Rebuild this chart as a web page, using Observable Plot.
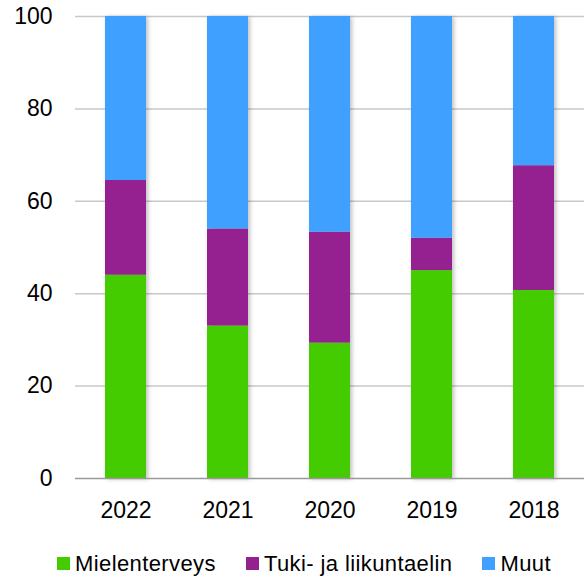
<!DOCTYPE html>
<html><head><meta charset="utf-8">
<script src="https://cdn.jsdelivr.net/npm/d3@7"></script>
<script src="https://cdn.jsdelivr.net/npm/@observablehq/plot@0.6"></script>
<style>
body{margin:0;background:#fff;font-family:"Liberation Sans",Arial,sans-serif;}
#legend{display:flex;align-items:center;height:48px;padding-left:57px;font-size:22px;letter-spacing:0.4px;color:#000;white-space:nowrap;}
#legend .it{display:flex;align-items:center;margin-right:30px;flex-shrink:0;}
#legend .sw{width:13px;height:13px;margin-right:5px;margin-top:-2px;}
</style></head>
<body><div id="chart"></div><div id="legend"></div>
<script>
const years = ["2022","2021","2020","2019","2018"];
const series = ["Mielenterveys","Tuki- ja liikuntaelin","Muut"];
const colors = ["#44cc00","#952090","#3fa0ff"];
const mielenterveys = [44, 33, 29.3, 45, 40.7];
const tuki = [20.5, 21, 24, 7, 27];
const muut = [35.5, 46, 46.7, 48, 32.3];
const yTicks = [0,20,40,60,80,100];

const vals = [mielenterveys, tuki, muut];
const data = [];
series.forEach((s,i)=>years.forEach((y,j)=>data.push({year:y, series:s, value:vals[i][j]})));

const plot = Plot.plot({
  width:584, height:540,
  marginTop:16, marginBottom:62, marginLeft:75, marginRight:0,
  style:{fontFamily:'"Liberation Sans",Arial,sans-serif', fontSize:"23px", color:"#000", background:"#fff"},
  x:{domain:years, paddingInner:0.6, paddingOuter:0.29, label:null},
  y:{domain:[0,100], label:null},
  color:{domain:series, range:colors},
  marks:[
    Plot.ruleY(yTicks.filter(d=>d>0), {stroke:"#c8c8c8", strokeWidth:1.5}),
    Plot.barY(data, {x:"year", y:"value", fill:"series", z:"series", order:series, imageFilter:"drop-shadow(2px 1px 2px rgba(0,0,0,0.25))"}),
    Plot.ruleY([0], {stroke:"#999", strokeWidth:1.5}),
    Plot.axisX({tickSize:0, tickPadding:23, fontSize:23, label:null}),
    Plot.axisY({ticks:yTicks, tickSize:0, tickPadding:23, fontSize:23, label:null})
  ]
});
document.getElementById("chart").appendChild(plot);
const lg = document.getElementById("legend");
series.forEach((s,i)=>{
  const it=document.createElement("div");it.className="it";
  it.innerHTML=`<span class="sw" style="background:${colors[i]}"></span><span>${s}</span>`;
  lg.appendChild(it);
});
</script></body></html>
